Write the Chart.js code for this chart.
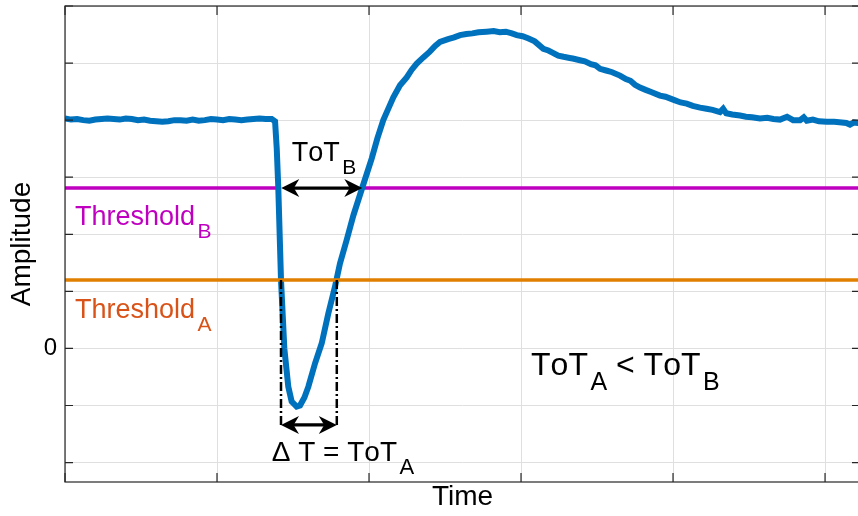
<!DOCTYPE html>
<html>
<head>
<meta charset="utf-8">
<script src="https://cdn.jsdelivr.net/npm/chart.js@4.4.1/dist/chart.umd.min.js"></script>
<style>
  html, body { margin: 0; padding: 0; background: #fff; overflow: hidden; }
  #wrap { width: 862px; height: 516px; position: relative; }
</style>
</head>
<body>
<div id="wrap"><canvas id="chart"></canvas></div>
<script>
// signal trace (time in grid units of 100, amplitude in grid units)
const timeVals = [
  0, 4, 8, 12, 16, 20, 24, 28, 32, 36, 40, 44, 48, 52, 56, 60, 64, 68, 72, 76,
  80, 84, 88, 92, 96, 100, 104, 108, 112, 116, 120, 124, 128, 132, 136, 138.2,
  139.3, 140.3, 142.1, 144.3, 146.9, 149.1, 152.4, 154.6, 157.5, 160.1, 164.5,
  168.9, 173.2, 177.6, 180.9, 185.3, 189.7, 195.6, 201.8, 205.5, 209.4, 213,
  216, 220.4, 224.8, 228, 231.4, 235.7, 240, 243.5, 246.7, 252, 256, 259.9,
  264, 268, 272, 277.4, 282, 286, 290, 294, 297.2, 301, 305, 309, 314.7, 318,
  321, 324.5, 328, 332, 334, 338.8, 342, 346, 349, 352, 356, 360, 365.1, 369,
  372, 375, 378.3, 382, 386, 391.4, 395, 400.9, 405, 409, 413, 417.8, 422,
  426, 430.9, 433, 435, 439, 444.1, 448, 452, 457.2, 462, 466, 470.4, 475,
  479, 483.6, 486, 488, 492, 496, 501.1, 506, 511, 514, 516.4, 519, 521.7, 523
];
const ampVals = [
  4.03, 4.01, 4.02, 4.00, 3.99, 4.01, 4.02, 4.03, 4.02, 4.01, 4.03, 4.02, 4.00, 4.01, 3.99, 3.98, 3.97, 3.98, 4.00, 4.00,
  3.99, 4.01, 3.99, 4.00, 4.02, 4.01, 4.00, 4.02, 4.01, 4.00, 4.01, 4.02, 4.03, 4.02, 4.02, 3.98,
  3.5, 2.83, 1.2, 0.0, -0.67, -0.93, -1.02, -1.0, -0.86, -0.67, -0.26,
  0.09, 0.61, 1.08, 1.49, 1.90, 2.33, 2.82, 3.33, 3.68, 4.0, 4.22,
  4.4, 4.61, 4.75, 4.88, 4.99, 5.1, 5.2, 5.3, 5.37, 5.42, 5.45, 5.49,
  5.51, 5.52, 5.54, 5.55, 5.56, 5.54, 5.55, 5.52, 5.49, 5.47, 5.43, 5.38, 5.25, 5.22,
  5.18, 5.13, 5.11, 5.09, 5.08, 5.05, 5.03, 4.98, 4.96, 4.90, 4.87, 4.84, 4.78, 4.72,
  4.69, 4.62, 4.57, 4.53, 4.49, 4.43, 4.41, 4.35, 4.31, 4.29, 4.25, 4.22, 4.20,
  4.18, 4.14, 4.20, 4.12, 4.10, 4.08, 4.06, 4.05, 4.03, 4.04, 4.02, 4.01, 4.06,
  4.00, 4.00, 4.05, 3.99, 4.01, 3.98, 3.97, 3.97, 3.96, 3.95, 3.92, 3.96, 3.95, 3.95
];
const thresholdA = 1.2;
const thresholdB = 2.81;
const crossA = [142.1, 178.8];   // signal crosses threshold A
const crossB = [140.3, 195.6];   // signal crosses threshold B
const deltaLevel = -1.34;        // level of the delta-T arrow
const xTicks = [0, 100, 200, 300, 400, 500];
const yTicks = [-2, -1, 0, 1, 2, 3, 4, 5, 6];

const FONT = '"Liberation Sans", Arial, sans-serif';
Chart.defaults.font.family = FONT;

const signal = timeVals.map((t, i) => ({ x: t, y: ampVals[i] }));
const lineA = [{ x: 0, y: thresholdA }, { x: 523, y: thresholdA }];
const lineB = [
  { x: 0, y: thresholdB }, { x: crossB[0], y: thresholdB }, { x: crossB[0], y: null },
  { x: crossB[1], y: thresholdB }, { x: 523, y: thresholdB }
];

const notes = [
  { x: 6.6, y: 2.16, parts: [['Threshold'], ['B', 1]], size: 27, color: '#C000C0' },
  { x: 6.6, y: 0.525, parts: [['Threshold'], ['A', 1]], size: 27, color: '#D95319' },
  { x: 149.1, y: 3.28, parts: [['ToT'], ['B', 1]], size: 27, color: '#000' },
  { x: 136, y: -1.968, parts: [['\u0394 T = ToT'], ['A', 1]], size: 28, color: '#000' },
  { x: 306.6, y: -0.467, parts: [['ToT'], ['A', 1], [' < ToT'], ['B', 1]], size: 32, color: '#000' }
];

function head(ctx, x, y, dir) {
  const L = 18, W = 9;
  ctx.beginPath();
  ctx.moveTo(x, y);
  ctx.lineTo(x - dir * L, y - W);
  ctx.lineTo(x - dir * L * 0.7, y);
  ctx.lineTo(x - dir * L, y + W);
  ctx.closePath();
  ctx.fill();
}

function arrow(ctx, x1, x2, y) {
  ctx.lineWidth = 3.2;
  ctx.setLineDash([]);
  ctx.beginPath();
  ctx.moveTo(x1 + 10, y);
  ctx.lineTo(x2 - 10, y);
  ctx.stroke();
  head(ctx, x1, y, -1);
  head(ctx, x2, y, 1);
}

function rich(ctx, x, y, parts, size, color) {
  ctx.fillStyle = color;
  ctx.textAlign = 'left';
  ctx.textBaseline = 'alphabetic';
  ctx.fontKerning = 'none';
  for (const [t, sub] of parts) {
    const s = sub ? Math.round(size * 0.78) : size;
    ctx.font = s + 'px ' + FONT;
    const dx = sub ? 2.5 : 0;
    ctx.fillText(t, x + dx, y + (sub ? size * 0.47 : 0));
    x += ctx.measureText(t).width + dx;
  }
}

const overlay = {
  id: 'overlay',
  afterDatasetsDraw(chart) {
    const { ctx, chartArea: a, scales } = chart;
    const X = v => scales.x.getPixelForValue(v);
    const Y = v => scales.y.getPixelForValue(v);
    ctx.save();

    // dash-dot drop lines at the threshold A crossings
    ctx.strokeStyle = '#000';
    ctx.lineWidth = 2.5;
    ctx.setLineDash([9, 3, 2, 3]);
    for (const c of crossA) {
      ctx.beginPath();
      ctx.moveTo(X(c), Y(thresholdA));
      ctx.lineTo(X(c), Y(deltaLevel));
      ctx.stroke();
    }

    ctx.fillStyle = '#000';
    arrow(ctx, X(crossB[0]) + 3, X(crossB[1]), Y(thresholdB));
    arrow(ctx, X(crossA[0]), X(crossA[1]), Y(deltaLevel));

    for (const n of notes) rich(ctx, X(n.x), Y(n.y), n.parts, n.size, n.color);

    // axes box with inward ticks
    ctx.setLineDash([]);
    ctx.strokeStyle = '#262626';
    ctx.lineWidth = 1.2;
    ctx.strokeRect(a.left, a.top, a.width, a.height);
    ctx.beginPath();
    for (const v of xTicks) {
      const x = X(v);
      ctx.moveTo(x, a.bottom); ctx.lineTo(x, a.bottom - 9);
      ctx.moveTo(x, a.top); ctx.lineTo(x, a.top + 9);
    }
    for (const v of yTicks) {
      const y = Y(v);
      ctx.moveTo(a.left, y); ctx.lineTo(a.left + 8, y);
      ctx.moveTo(a.right, y); ctx.lineTo(a.right - 8, y);
    }
    ctx.stroke();
    ctx.restore();
  }
};

new Chart(document.getElementById('chart'), {
  type: 'line',
  data: {
    datasets: [
      { data: lineA, borderColor: '#E07F00', borderWidth: 3.5, pointRadius: 0 },
      { data: signal, borderColor: '#0072BD', borderWidth: 6, pointRadius: 0, tension: 0 },
      { data: lineB, borderColor: '#C000C0', borderWidth: 3.5, pointRadius: 0, spanGaps: false }
    ]
  },
  options: {
    responsive: true,
    maintainAspectRatio: false,
    animation: false,
    layout: { padding: { top: 6, right: 2, left: 0, bottom: 0 } },
    plugins: { legend: { display: false }, tooltip: { enabled: false } },
    scales: {
      x: {
        type: 'linear',
        min: 0,
        max: 523,
        afterBuildTicks: s => { s.ticks = xTicks.map(v => ({ value: v })); },
        afterFit: s => { s.height = 34; s.paddingLeft = 0; s.paddingRight = 0; },
        grid: { color: '#dfdfdf', lineWidth: 1, drawTicks: false },
        border: { display: false },
        ticks: { display: false },
        title: { display: true, text: 'Time', color: '#000', font: { size: 28 }, padding: { top: 0, bottom: 1.5 } }
      },
      y: {
        min: -2.34,
        max: 6,
        afterBuildTicks: s => { s.ticks = yTicks.map(v => ({ value: v })); },
        afterFit: s => { s.width = 65; s.paddingTop = 0; s.paddingBottom = 0; },
        grid: { color: '#dfdfdf', lineWidth: 1, drawTicks: false },
        border: { display: false },
        ticks: {
          color: '#000',
          font: { size: 24 },
          padding: 8,
          callback: v => (v === 0 ? '0' : '')
        },
        title: { display: true, text: 'Amplitude', color: '#000', font: { size: 28 }, padding: { top: 5.7, bottom: 0 } }
      }
    }
  },
  plugins: [overlay]
});
</script>
</body>
</html>
